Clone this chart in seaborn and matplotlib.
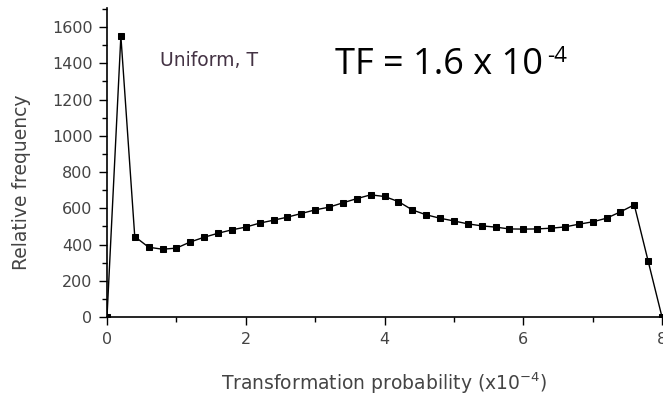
import matplotlib
matplotlib.use("Agg")
import matplotlib.pyplot as plt
import seaborn as sns
import pandas as pd
import numpy as np
from matplotlib.ticker import MultipleLocator

# Data
x_prob = [0.0, 0.2, 0.4, 0.6, 0.8, 1.0, 1.2, 1.4, 1.6, 1.8, 2.0, 2.2, 2.4, 2.6, 2.8,
          3.0, 3.2, 3.4, 3.6, 3.8, 4.0, 4.2, 4.4, 4.6, 4.8, 5.0, 5.2, 5.4, 5.6, 5.8,
          6.0, 6.2, 6.4, 6.6, 6.8, 7.0, 7.2, 7.4, 7.6, 7.8, 8.0]
rel_freq = [0, 1550, 444, 385, 374, 380, 414, 440, 462, 481, 496, 518, 534, 551, 571,
            591, 606, 630, 653, 674, 665, 637, 591, 564, 545, 530, 514, 503, 496, 486,
            485, 486, 490, 497, 512, 525, 545, 580, 619, 309, 0]
x_ticks = [0, 2, 4, 6, 8]
y_ticks = [0, 200, 400, 600, 800, 1000, 1200, 1400, 1600]

df = pd.DataFrame({"x": x_prob, "y": rel_freq})

sns.set_style("ticks")
plt.rcParams['font.family'] = ['DejaVu Sans']

W, H = 663, 397
fig = plt.figure(figsize=(W / 100, H / 100), dpi=100)
ax = fig.add_axes([107 / W, (H - 317) / H, 555 / W, 309 / H])

sns.lineplot(data=df, x="x", y="y", ax=ax, color="black", linewidth=1.0,
             marker="s", markersize=4, markeredgecolor="black", markerfacecolor="black")

ax.set_xlim(0, 8)
ax.set_ylim(0, 1705)
ax.set_xticks(x_ticks)
ax.set_yticks(y_ticks)
ax.xaxis.set_minor_locator(MultipleLocator(1))
ax.yaxis.set_minor_locator(MultipleLocator(100))
ax.tick_params(which="major", direction="out", length=6, width=1, colors="black",
               labelsize=11.5, labelcolor="#444444", pad=4.5)
ax.tick_params(which="minor", direction="out", length=3.5, width=1, colors="black")
for s in ["top", "right"]:
    ax.spines[s].set_visible(False)
for s in ["left", "bottom"]:
    ax.spines[s].set_linewidth(1.2)
    ax.spines[s].set_color("black")
ax.set_xlabel("")
ax.set_ylabel("")

fig.text(22 / W, 1 - 182 / H, "Relative frequency", rotation=90, ha="center", va="center",
         fontsize=13.5, color="#444444")
fig.text(384 / W, 1 - 383 / H, "Transformation probability (x10$^{-4}$)", ha="center",
         va="center", fontsize=13.5, color="#444444")
fig.text(160 / W, 1 - 61 / H, "Uniform, T", ha="left", va="center", fontsize=13.5,
         color="#443344")
fig.text(335 / W, 1 - 74 / H, "TF = 1.6 x 10", ha="left", va="baseline",
         fontsize=26, family="Open Sans", color="black")
fig.text(547 / W, 1 - 62 / H, "-4", ha="left", va="baseline",
         fontsize=16, family="Open Sans", color="black")

fig.savefig("out.png", dpi=100)
